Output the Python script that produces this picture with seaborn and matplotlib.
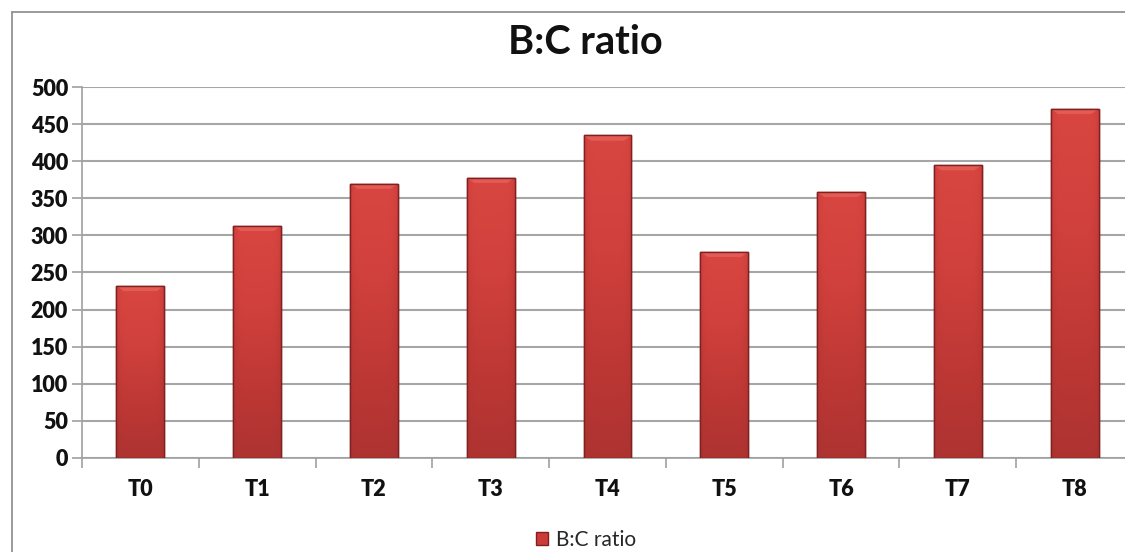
import numpy as np
import pandas as pd
import matplotlib
matplotlib.use("Agg")
import matplotlib.pyplot as plt
from matplotlib.lines import Line2D
from matplotlib.patches import Patch
from matplotlib.colors import LinearSegmentedColormap
from matplotlib.ticker import MultipleLocator, FixedLocator
import seaborn as sns

# Data
treatments = ["T0", "T1", "T2", "T3", "T4", "T5", "T6", "T7", "T8"]
bc_ratio = [232, 313, 370, 378, 435, 278, 359, 395, 471]
series_name = "B:C ratio"

df = pd.DataFrame({"Treatment": treatments, "Value": bc_ratio})

sns.set_theme(style="white")
plt.rcParams["font.family"] = ["Lato", "DejaVu Sans"]

W, H = 1125, 552
fig = plt.figure(figsize=(W / 100, H / 100), dpi=100)
fig.patch.set_facecolor("white")

# plot area (right edge runs past the figure border)
ax_left, ax_right, ax_top, ax_bottom = 82, 1133, 87.3, 457.7
ax = fig.add_axes([ax_left / W, 1 - ax_bottom / H,
                   (ax_right - ax_left) / W, (ax_bottom - ax_top) / H])

bar_red = "#cc3b37"
sns.barplot(data=df, x="Treatment", y="Value", ax=ax, color=bar_red,
            width=0.41, edgecolor="#7e2120", linewidth=1.0, saturation=1,
            zorder=3, label=series_name)

# shaded fill for each bar: lighter on top, darker toward the base and sides
red_cmap = LinearSegmentedColormap.from_list(
    "bar_red", ["#a63130", "#bb3734", "#d0403c", "#da4742"])
ny, nx = 200, 40
vert = np.linspace(0, 1, ny)[:, None]
horiz = 1 - 0.35 * (np.abs(np.linspace(-1, 1, nx))[None, :] ** 6)
shade = (vert * 0.85 + 0.12) * horiz
for p in ax.patches:
    x0, y0 = p.get_x(), p.get_y()
    w, h = p.get_width(), p.get_height()
    im = ax.imshow(shade, cmap=red_cmap, vmin=0, vmax=1, origin="lower",
                   extent=[x0, x0 + w, y0, y0 + h], aspect="auto",
                   zorder=3.5, interpolation="bilinear")
    im.set_clip_path(p)
    # bevelled cap at the top of the bar
    cap = h - 7
    ax.fill([x0, x0 + w, x0 + w * 0.85, x0 + w * 0.15],
            [y0 + h, y0 + h, cap, cap], color="#ec6a63", alpha=0.6,
            lw=0, zorder=3.6)
    ax.plot([x0, x0 + w, x0 + w, x0, x0], [y0, y0, y0 + h, y0 + h, y0],
            color="#7e2120", lw=1.0, zorder=3.7)

ax.set_xlim(-0.5, 8.5)
ax.set_ylim(0, 500)
ax.yaxis.set_major_locator(MultipleLocator(50))
ax.grid(axis="y", color="#a6a6a6", linewidth=1.5, zorder=0)
ax.set_axisbelow(True)

for side in ["top", "right"]:
    ax.spines[side].set_visible(False)
for side in ["left", "bottom"]:
    ax.spines[side].set_color("#a0a0a0")
    ax.spines[side].set_linewidth(1.2)

ax.set_xlabel("")
ax.set_ylabel("")
ax.tick_params(axis="y", which="major", length=7, width=1.2, color="#a0a0a0",
               labelsize=15.5, pad=3, left=True)
ax.tick_params(axis="x", which="major", length=0, labelsize=15.5, pad=15)
ax.xaxis.set_minor_locator(FixedLocator(np.arange(-0.5, 9.0, 1.0)))
ax.tick_params(axis="x", which="minor", length=7, width=1.2, color="#a0a0a0",
               bottom=True)
for lab in ax.get_xticklabels() + ax.get_yticklabels():
    lab.set_fontweight("heavy")
    lab.set_color("#111111")

if ax.get_legend() is not None:
    ax.get_legend().remove()

fig.text(585 / W, 1 - 42 / H, series_name, ha="center", va="center",
         fontsize=28.5, fontweight="bold", color="#111111")

fig.legend(handles=[Patch(facecolor="#cc3b37", edgecolor="#7e2120",
                          label=series_name)],
           loc="center", bbox_to_anchor=(586 / W, 1 - 540 / H), frameon=False,
           fontsize=15, handlelength=0.6, handleheight=0.6,
           handletextpad=0.4, borderpad=0)

# outer chart border
fig.add_artist(Line2D([11.7 / W, 1], [1 - 11.7 / H, 1 - 11.7 / H],
                      transform=fig.transFigure, color="#8a8a8a", lw=1.2))
fig.add_artist(Line2D([11.7 / W, 11.7 / W], [0, 1 - 11.7 / H],
                      transform=fig.transFigure, color="#8a8a8a", lw=1.2))

fig.savefig("out.png", dpi=100, facecolor="white")
